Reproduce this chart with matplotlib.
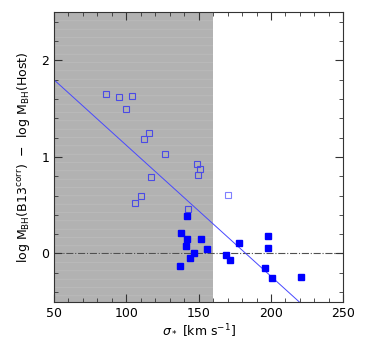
import matplotlib.pyplot as plt
import numpy as np
from matplotlib.ticker import MultipleLocator

# open squares (shaded region sample)
open_sigma = [85.9, 94.6, 103.9, 99.9, 115.8, 111.9, 126.6, 148.7, 150.8, 149.7,
              117.0, 109.8, 105.9, 142.8]
open_dm = [1.657, 1.626, 1.637, 1.498, 1.253, 1.183, 1.031, 0.927, 0.875, 0.810,
           0.792, 0.595, 0.526, 0.464]
# the lighter open square
light_sigma = [170.1]
light_dm = [0.609]
# filled squares
fill_sigma = [141.8, 137.9, 141.8, 140.9, 151.7, 155.9, 146.9, 143.9, 136.8,
              168.8, 171.8, 177.7, 197.8, 197.8, 195.9, 201.0, 220.8]
fill_dm = [0.391, 0.211, 0.145, 0.080, 0.152, 0.048, 0.0, -0.042, -0.125,
           -0.021, -0.069, 0.111, 0.183, 0.055, -0.149, -0.256, -0.249]

# fit line
fit_a = 1.8
fit_b = -0.01358

plt.rcParams['hatch.linewidth'] = 0.4

fig = plt.figure(figsize=(3.74, 3.45), dpi=100)
ax = fig.add_axes([0.1444, 0.1255, 0.9180 - 0.1444, 0.9645 - 0.1255])

ax.axvspan(50, 160, facecolor='#b2b2b2', edgecolor='#c0c0c0', hatch='--',
           linewidth=0, zorder=0)

ax.axhline(0, color='#505050', ls='-.', lw=0.8, zorder=1)
xs = np.array([50, 250])
ax.plot(xs, fit_a + fit_b * (xs - 50), color='#4848ff', lw=0.7, zorder=2)

ax.plot(open_sigma, open_dm, 's', mfc='none', mec='#4b4be6', mew=0.8, ms=4.4, zorder=3)
ax.plot(light_sigma, light_dm, 's', mfc='none', mec='#8080ff', mew=0.8, ms=4.4, zorder=3)
ax.plot(fill_sigma, fill_dm, 's', color='#0000ff', ms=4.8, zorder=3)

ax.set_xlim(50, 250)
ax.set_ylim(-0.5, 2.5)
ax.xaxis.set_major_locator(MultipleLocator(50))
ax.xaxis.set_minor_locator(MultipleLocator(10))
ax.yaxis.set_major_locator(MultipleLocator(1))
ax.yaxis.set_minor_locator(MultipleLocator(0.2))
ax.tick_params(which='both', direction='in', top=True, right=True, color='#333333',
               labelsize=9)
ax.tick_params(which='major', length=6)
ax.tick_params(which='minor', length=3)
for s in ax.spines.values():
    s.set_color('#333333')
    s.set_linewidth(0.8)

ax.set_xlabel(r'$\sigma_*$ [km s$^{-1}$]', fontsize=9, labelpad=2)
ax.set_ylabel(r'log M$_{\rm BH}$(B13$^{\rm corr}$)  $-$  log M$_{\rm BH}$(Host)',
              fontsize=9, labelpad=6)

fig.savefig('out.png', dpi=100)
